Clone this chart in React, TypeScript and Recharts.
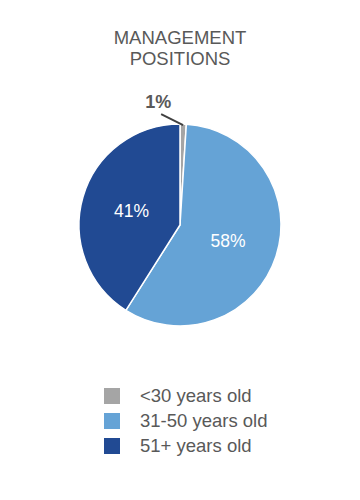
import { Cell, Legend, Pie, PieChart } from "recharts";

const ageGroups = ["<30 years old", "31-50 years old", "51+ years old"];
const shares = [1, 58, 41];
const colors = ["#a5a5a5", "#65a3d6", "#214a93"];
const titleLines = ["MANAGEMENT", "POSITIONS"];

const data = ageGroups.map((name, i) => ({ name, value: shares[i] }));

const RADIAN = Math.PI / 180;
const TEXT = "#595959";

function renderLabel(props: any) {
  const { cx, cy, midAngle, outerRadius, index, value } = props;
  const cos = Math.cos(-midAngle * RADIAN);
  const sin = Math.sin(-midAngle * RADIAN);
  if (value < 5) {
    // small slice: label outside with a short leader line
    const sx = cx + (outerRadius - 1) * cos;
    const sy = cy + (outerRadius - 1) * sin;
    const ex = sx - 22;
    const ey = sy - 11;
    return (
      <g key={`l-${index}`}>
        <line x1={sx} y1={sy} x2={ex} y2={ey} stroke="#404040" strokeWidth={2} />
        <text
          x={ex - 3}
          y={ey - 12}
          textAnchor="middle"
          dominantBaseline="central"
          fill={TEXT}
          fontSize={18}
          fontWeight="bold"
        >
          {`${value}%`}
        </text>
      </g>
    );
  }
  const r = outerRadius * 0.5;
  return (
    <text
      key={`l-${index}`}
      x={cx + r * cos}
      y={cy + r * sin}
      textAnchor="middle"
      dominantBaseline="central"
      fill="#ffffff"
      fontSize={17.5}
    >
      {`${value}%`}
    </text>
  );
}

function LegendContent() {
  return (
    <div style={{ paddingLeft: 104, textAlign: "left" }}>
      {ageGroups.map((name, i) => (
        <div key={name} style={{ display: "flex", alignItems: "center", height: 25 }}>
          <span
            style={{
              display: "inline-block",
              width: 16,
              height: 16,
              background: colors[i],
              marginRight: 20,
            }}
          />
          <span style={{ color: TEXT, fontSize: 18.5 }}>{name}</span>
        </div>
      ))}
    </div>
  );
}

export default function App() {
  return (
    <div
      style={{
        position: "absolute",
        left: 0,
        top: 0,
        width: 360,
        height: 500,
        background: "#ffffff",
        fontFamily: "'Liberation Sans', Arial, sans-serif",
      }}
    >
      <div
        style={{
          position: "absolute",
          top: 27,
          left: 0,
          width: 360,
          textAlign: "center",
          color: TEXT,
          fontSize: 18.5,
          lineHeight: "21px",
        }}
      >
        {titleLines.map((t) => (
          <div key={t}>{t}</div>
        ))}
      </div>
      <PieChart width={360} height={500} margin={{ top: 0, right: 0, bottom: 0, left: 0 }}>
        <Pie
          data={data}
          dataKey="value"
          nameKey="name"
          cx={180}
          cy={225}
          outerRadius={101}
          startAngle={90}
          endAngle={-270}
          stroke="#ffffff"
          strokeWidth={1.5}
          label={renderLabel}
          labelLine={false}
          isAnimationActive={false}
        >
          {data.map((d, i) => (
            <Cell key={d.name} fill={colors[i]} />
          ))}
        </Pie>
        <Legend
          layout="horizontal"
          verticalAlign="bottom"
          align="center"
          wrapperStyle={{ top: 383, bottom: "auto", left: 0, width: 360 }}
          content={<LegendContent />}
        />
      </PieChart>
    </div>
  );
}
